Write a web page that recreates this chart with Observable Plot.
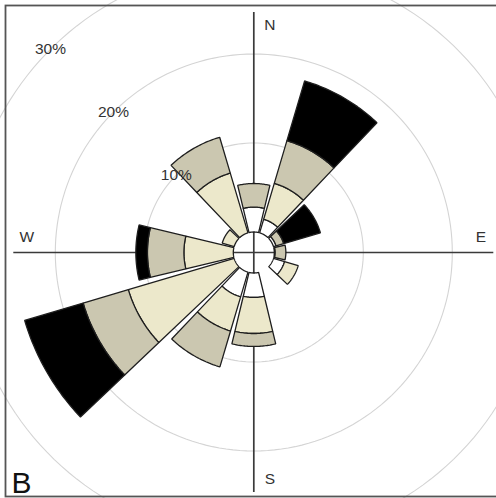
<!DOCTYPE html>
<html>
<head>
<meta charset="utf-8">
<script src="https://cdn.jsdelivr.net/npm/d3@7"></script>
<script src="https://cdn.jsdelivr.net/npm/@observablehq/plot@0.6"></script>
<style>
  html, body { margin: 0; padding: 0; background: #fff; overflow: hidden; }
  #chart svg { display: block; font-family: "Liberation Sans", Arial, sans-serif; }
</style>
</head>
<body>
<div id="chart"></div>
<script>
// ---- data (percent frequency per direction, stacked by speed class) ----
const directions = [0, 30, 60, 90, 120, 150, 180, 210, 240, 270, 300, 330];
const classNames = ["lowest", "low", "medium", "high"];
const classColors = ["#ffffff", "#ece8cb", "#cbc7b0", "#000000"];
const lowest = [2.8, 1.6, 0.3, 0.1, 1.3, 0, 2.75, 2.9, 0, 0, 0, 0];
const low    = [0, 4.2, 0, 0, 1.6, 0, 4.05, 4.0, 12.4, 5.55, 1.4, 7.0];
const medium = [2.65, 5.0, 0.9, 1.2, 0, 0, 1.45, 4.2, 5.3, 4.1, 0, 4.2];
const high   = [0, 7.0, 4.3, 0, 0, 0, 0, 0, 6.85, 1.3, 0, 0];
const gridTicks = [10, 20, 30];
const gridLabels = ["10%", "20%", "30%"];
const compassNames = ["N", "E", "S", "W"];
const compassAngles = [0, 90, 180, 270];
const panelLabel = "B";

// ---- geometry helpers ----
const pxPerUnit = 8.9;          // pixels per percent
const hole = 20.5 / pxPerUnit;  // empty centre, in percent units
const halfWidth = 13.5;         // half sector width in degrees
const cx = 253.3, cy = 252;     // centre in pixels
const W = 496, H = 498;
const rad = d => d * Math.PI / 180;

const series = [lowest, low, medium, high];
const wedges = [];
directions.forEach((dir, i) => {
  let cum = 0;
  series.forEach((vals, c) => {
    const v = vals[i];
    if (v > 0) {
      const r0 = hole + cum, r1 = hole + cum + v;
      const id = `${dir}-${c}`;
      const steps = 30;
      for (let s = 0; s <= steps; s++) {
        const a = rad(dir - halfWidth + (2 * halfWidth) * s / steps);
        wedges.push({id, cls: classNames[c], x: r1 * Math.sin(a), y: r1 * Math.cos(a)});
      }
      for (let s = steps; s >= 0; s--) {
        const a = rad(dir - halfWidth + (2 * halfWidth) * s / steps);
        wedges.push({id, cls: classNames[c], x: r0 * Math.sin(a), y: r0 * Math.cos(a)});
      }
    }
    cum += v;
  });
});

const circles = [];
gridTicks.forEach(t => {
  for (let a = 0; a <= 360; a += 2) {
    const r = hole + t;
    circles.push({t, x: r * Math.sin(rad(a)), y: r * Math.cos(rad(a))});
  }
});

const tickLabelData = gridTicks.map((t, i) => {
  const r = hole + t;
  return {label: gridLabels[i], x: r * Math.sin(rad(315)), y: r * Math.cos(rad(315))};
});

const axisReach = 240 / pxPerUnit;
const labelReach = 227 / pxPerUnit;
const compassData = compassNames.map((n, i) => ({
  name: n,
  x: labelReach * Math.sin(rad(compassAngles[i])),
  y: labelReach * Math.cos(rad(compassAngles[i])),
  vertical: compassAngles[i] % 180 === 0
}));

const xDomain = [-cx / pxPerUnit, (W - cx) / pxPerUnit];
const yDomain = [-(H - cy) / pxPerUnit, cy / pxPerUnit];

const chart = Plot.plot({
  width: W,
  height: H,
  margin: 0,
  x: {domain: xDomain, axis: null},
  y: {domain: yDomain, axis: null},
  color: {domain: classNames, range: classColors},
  style: {fontFamily: "Liberation Sans, Arial, sans-serif", background: "#fff"},
  marks: [
    Plot.line(circles, {x: "x", y: "y", z: "t", stroke: "#d4d4d4", strokeWidth: 1.1, curve: "linear-closed"}),
    Plot.ruleX([0], {y1: -axisReach, y2: axisReach, stroke: "#3a3a3a", strokeWidth: 1.7}),
    Plot.ruleY([0], {x1: -axisReach, x2: axisReach, stroke: "#3a3a3a", strokeWidth: 1.7}),
    Plot.line(wedges, {x: "x", y: "y", z: "id", fill: "cls", stroke: "#1e1e1e", strokeWidth: 1.3, strokeLinejoin: "miter", curve: "linear-closed"}),
    Plot.text(tickLabelData, {x: "x", y: "y", text: "label", fontSize: 15.5, fill: "#333"}),
    Plot.text(compassData.filter(d => d.vertical), {x: "x", y: "y", text: "name", dx: 16, fontSize: 15.5, fill: "#333"}),
    Plot.text(compassData.filter(d => !d.vertical), {x: "x", y: "y", text: "name", dy: -15, fontSize: 15.5, fill: "#333"}),
    Plot.text([panelLabel], {frameAnchor: "bottom-left", lineAnchor: "bottom", dx: 11, dy: -6, fontSize: 30, fill: "#111"}),
    Plot.frame({insetLeft: 5, insetTop: 5, insetBottom: 2, insetRight: -6, stroke: "#555", strokeWidth: 1.8})
  ]
});
document.getElementById("chart").append(chart);
</script>
</body>
</html>
